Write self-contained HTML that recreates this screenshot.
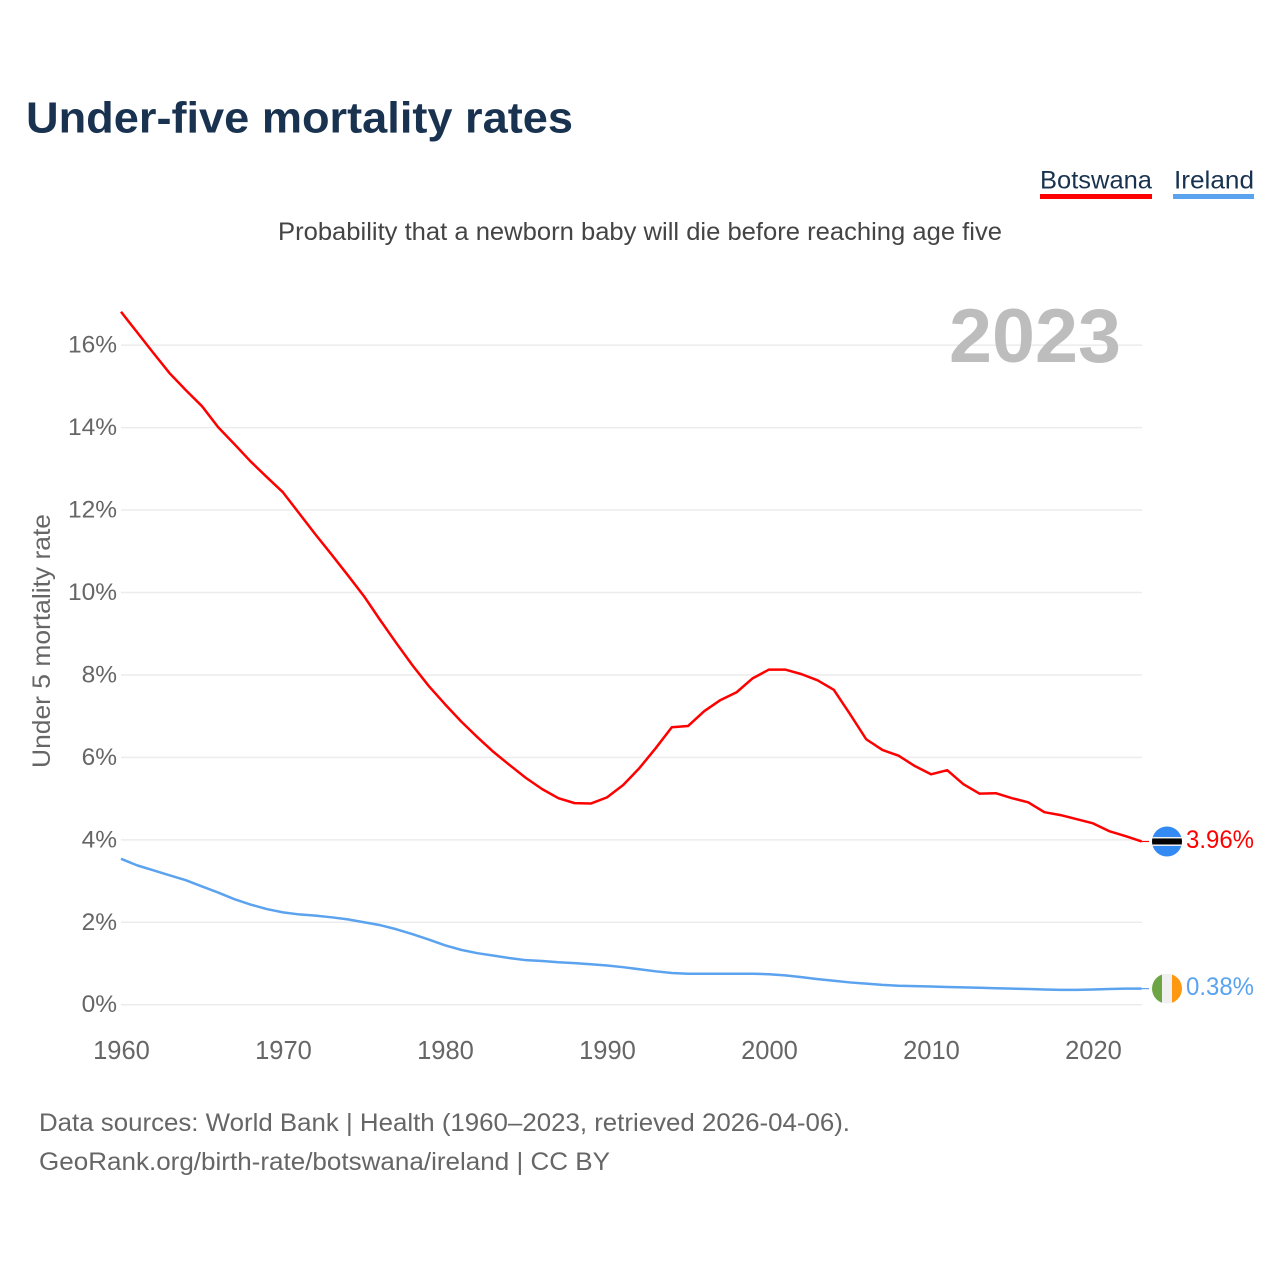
<!DOCTYPE html>
<html lang="en">
<head>
<meta charset="utf-8">
<title>Under-five mortality rates</title>
<style>
html,body{margin:0;padding:0;background:#fff;}
svg{display:block;font-family:"Liberation Sans",sans-serif;}
</style>
</head>
<body>
<svg id="chart" width="1280" height="1280" viewBox="0 0 1280 1280" xmlns="http://www.w3.org/2000/svg">
  <text x="26" y="132.5" font-size="44" font-weight="700" fill="#18324f" textLength="547" lengthAdjust="spacingAndGlyphs">Under-five mortality rates</text>
  <text x="1040" y="188.5" font-size="25" fill="#18324f" textLength="112" lengthAdjust="spacingAndGlyphs">Botswana</text>
  <rect x="1040" y="194" width="112" height="5" fill="#ff0000"/>
  <text x="1174" y="188.5" font-size="25" fill="#18324f" textLength="80" lengthAdjust="spacingAndGlyphs">Ireland</text>
  <rect x="1173" y="194" width="81" height="5" fill="#5ba3ee"/>
  <text x="278" y="240" font-size="25" fill="#444" textLength="724" lengthAdjust="spacingAndGlyphs">Probability that a newborn baby will die before reaching age five</text>
  <g id="grid"></g>
  <text x="949" y="362" font-size="76" font-weight="700" fill="#bdbdbd" textLength="172" lengthAdjust="spacingAndGlyphs">2023</text>
  <g id="yticks"></g>
  <g id="xticks"></g>
  <text transform="translate(50,768) rotate(-90)" font-size="25" fill="#666" textLength="254" lengthAdjust="spacingAndGlyphs">Under 5 mortality rate</text>
  <g id="series"></g>
  <g id="ends"></g>
  <text x="39" y="1131" font-size="25" fill="#666" textLength="811" lengthAdjust="spacingAndGlyphs">Data sources: World Bank | Health (1960–2023, retrieved 2026-04-06).</text>
  <text x="39" y="1170" font-size="25" fill="#666" textLength="571" lengthAdjust="spacingAndGlyphs">GeoRank.org/birth-rate/botswana/ireland | CC BY</text>
</svg>
<script>
const years = [1960,1961,1962,1963,1964,1965,1966,1967,1968,1969,1970,1971,1972,1973,1974,1975,1976,1977,1978,1979,1980,1981,1982,1983,1984,1985,1986,1987,1988,1989,1990,1991,1992,1993,1994,1995,1996,1997,1998,1999,2000,2001,2002,2003,2004,2005,2006,2007,2008,2009,2010,2011,2012,2013,2014,2015,2016,2017,2018,2019,2020,2021,2022,2023];
const botswana = [16.81,16.31,15.81,15.32,14.91,14.52,14.01,13.6,13.18,12.8,12.43,11.92,11.41,10.92,10.42,9.91,9.33,8.77,8.23,7.73,7.29,6.87,6.49,6.13,5.81,5.5,5.23,5.01,4.89,4.88,5.03,5.33,5.74,6.22,6.73,6.76,7.12,7.39,7.58,7.92,8.13,8.13,8.02,7.87,7.64,7.05,6.44,6.18,6.04,5.79,5.59,5.69,5.35,5.12,5.13,5.01,4.91,4.67,4.6,4.5,4.4,4.21,4.09,3.96];
const ireland = [3.54,3.38,3.26,3.14,3.02,2.87,2.72,2.56,2.43,2.32,2.24,2.19,2.16,2.12,2.07,2.0,1.93,1.83,1.71,1.58,1.44,1.33,1.25,1.19,1.13,1.08,1.06,1.03,1.01,0.98,0.95,0.91,0.86,0.81,0.77,0.75,0.75,0.75,0.75,0.75,0.74,0.71,0.67,0.62,0.58,0.54,0.51,0.48,0.46,0.45,0.44,0.43,0.42,0.41,0.4,0.39,0.38,0.37,0.36,0.36,0.37,0.38,0.39,0.39];
const yTickValues = [0,2,4,6,8,10,12,14,16];
const xTickYears = [1960,1970,1980,1990,2000,2010,2020];

const NS = 'http://www.w3.org/2000/svg';
const xScale = function (year) { return 121 + (year - 1960) * 16.2; };
const yScale = function (value) { return 1004.7 - value * 41.22; };
function make(tag, parent, attrs, text) {
  const el = document.createElementNS(NS, tag);
  for (const k in attrs) el.setAttribute(k, attrs[k]);
  if (text !== undefined) el.textContent = text;
  parent.appendChild(el);
  return el;
}
const grid = document.getElementById('grid');
const yticks = document.getElementById('yticks');
const xticks = document.getElementById('xticks');
const seriesGroup = document.getElementById('series');
const ends = document.getElementById('ends');

yTickValues.forEach(function (v) {
  const line = make('line', grid, {x1: 121, x2: 1142, y1: yScale(v), y2: yScale(v), stroke: '#ececec', 'stroke-width': 1.5});
  
  
  const label = make('text', yticks, {x: 117, y: yScale(v) + 7.5, 'text-anchor': 'end', 'font-size': 24.5, fill: '#666'}, v + '%');
  
  
});
xTickYears.forEach(function (y) {
  const label = make('text', xticks, {x: xScale(y) + 0.5, y: 1059, 'text-anchor': 'middle', 'font-size': 25.5, fill: '#666'}, String(y));
  
  
});

function drawSeries(values, color, printed) {
  const pts = values.map(function (v, i) { return xScale(years[i]).toFixed(2) + ',' + yScale(v).toFixed(2); }).join(' ');
  const line = make('polyline', seriesGroup, {points: pts, fill: 'none', stroke: color, 'stroke-width': 2.5, 'stroke-linejoin': 'round'});
  
  
  const ly = yScale(values[values.length - 1]);
  const tail = make('line', seriesGroup, {x1: xScale(years[years.length - 1]), x2: 1149, y1: ly, y2: ly, stroke: color, 'stroke-width': 1.2});
  
  
  const label = make('text', ends, {x: 1186, y: ly + 6.5, 'font-size': 25, fill: color, textLength: 68, lengthAdjust: 'spacingAndGlyphs'}, printed);
  
  
  return ly;
}
const botY = drawSeries(botswana, '#ff0000', '3.96%');
const ireY = drawSeries(ireland, '#5ba3ee', '0.38%');

const defs = make('defs', ends, {});
const clipA = make('clipPath', defs, {id: 'clip-bw'});
make('circle', clipA, {cx: 1167, cy: botY, r: 15});
const clipB = make('clipPath', defs, {id: 'clip-ie'});
make('circle', clipB, {cx: 1167, cy: ireY, r: 15});

const bw = make('g', ends, {'clip-path': 'url(#clip-bw)'});


make('rect', bw, {x: 1152, y: botY - 15, width: 30, height: 30, fill: '#338af3'});
make('rect', bw, {x: 1152, y: botY - 4.5, width: 30, height: 9, fill: '#f0f0f0'});
make('rect', bw, {x: 1152, y: botY - 3, width: 30, height: 6, fill: '#000'});

const ie = make('g', ends, {'clip-path': 'url(#clip-ie)'});


make('rect', ie, {x: 1152, y: ireY - 15, width: 10, height: 30, fill: '#6da544'});
make('rect', ie, {x: 1162, y: ireY - 15, width: 10, height: 30, fill: '#f0f0f0'});
make('rect', ie, {x: 1172, y: ireY - 15, width: 10, height: 30, fill: '#ff9811'});
</script>
</body>
</html>
